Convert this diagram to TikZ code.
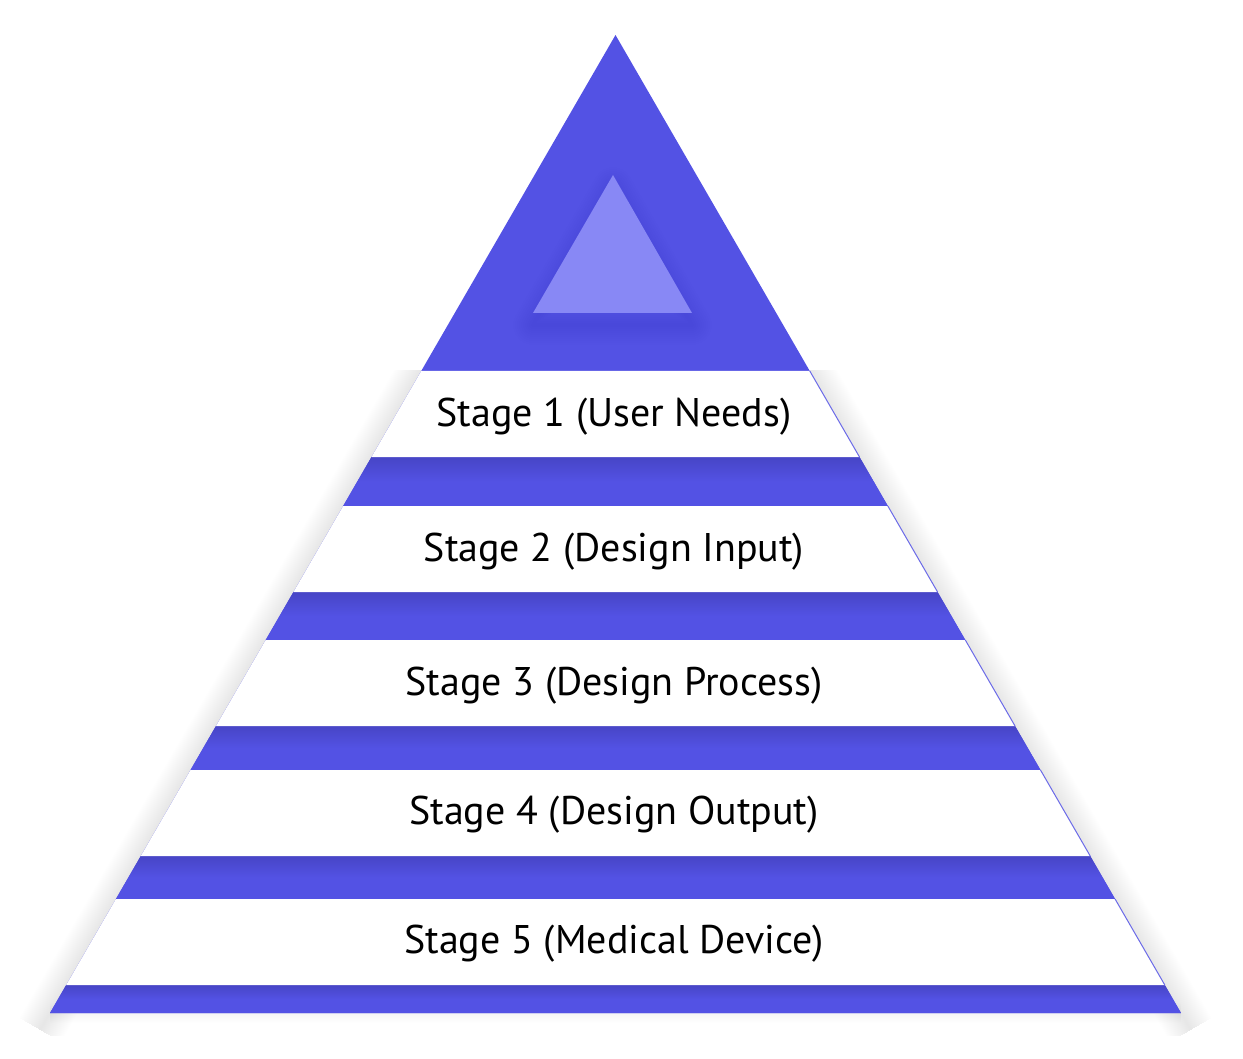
\documentclass[tikz,border=0pt]{standalone}
\usepackage{fontspec}
\setmainfont{PT Sans}
\usetikzlibrary{positioning}
\definecolor{pyrBlue}{HTML}{5352E4}
\definecolor{pyrDark}{HTML}{4745C6}
\definecolor{pyrLight}{HTML}{8888F5}
\tikzset{
  band/.style={fill=white},
  stripe/.style={top color=pyrDark, bottom color=pyrBlue, middle color=pyrBlue},
  stageLabel/.style={font=\fontsize{20}{24}\selectfont, text=black, inner sep=0pt},
  rimLine/.style={draw=pyrBlue!85, line width=0.5pt},
  haze/.style={black, opacity=0.0035, line cap=butt}
}

\begin{document}
\begin{tikzpicture}[x=0.5pt, y=-0.5pt,
    declare function={xl(\y)=615.5-0.5782*(\y-35); xr(\y)=615.5+0.5782*(\y-35);}]
  \useasboundingbox (0,0) rectangle (1243,1059);
  \coordinate (apex) at (615.5,35);
  \coordinate (baseL) at ({xl(1013)},1013);
  \coordinate (baseR) at ({xr(1013)},1013);
  \coordinate (flankL) at ({xl(371)},371);
  \coordinate (flankR) at ({xr(371)},371);

  % soft shadow along the flanks
  \begin{scope}
    \clip (0,371) rectangle (1243,1035);
    \foreach \w in {2,4,...,48} {
      \draw[haze, line width=\w*0.5pt] ({xl(300)},300) -- ({xl(1030)},1030);
      \draw[haze, line width=\w*0.5pt] ({xr(300)},300) -- ({xr(1030)},1030);
    }
    \foreach \w in {2,4,...,20}
      \draw[haze, line width=\w*0.5pt] (baseL) -- (baseR);
  \end{scope}

  % pyramid body
  \fill[pyrBlue] (apex) -- (baseL) -- (baseR) -- cycle;

  % blue stripes, darker under each white band
  \foreach \ya/\yb in {457/506, 592/640, 726/770, 856/899, 985/1013}
    \path[stripe] ({xl(\ya)},\ya) -- ({xr(\ya)},\ya) -- ({xr(\yb)},\yb) -- ({xl(\yb)},\yb) -- cycle;

  % white bands
  \foreach \ya/\yb in {371/457, 506/592, 640/726, 770/856, 899/985} {
    \fill[band] ({xl(\ya)},\ya) -- ({xr(\ya)},\ya) -- ({xr(\yb)},\yb) -- ({xl(\yb)},\yb) -- cycle;
    \draw[rimLine] ({xr(\ya)},\ya) -- ({xr(\yb)},\yb);
  }

  % small triangle at the top
  \coordinate (tipT) at (613,175);
  \coordinate (tipL) at (533,313);
  \coordinate (tipR) at (692,313);
  \begin{scope}
    \clip (apex) -- (flankL) -- (flankR) -- cycle;
    \foreach \w in {4,8,...,40}
      \draw[black, opacity=0.005, line width=\w*0.5pt, line join=round]
        ([yshift=-6pt]tipT) -- ([yshift=-6pt]tipL) -- ([yshift=-6pt]tipR) -- cycle;
  \end{scope}
  \fill[pyrLight] (tipT) -- (tipL) -- (tipR) -- cycle;

  % stage labels
  \foreach \yy/\txt [count=\i] in {417/Stage 1 (User Needs), 552/Stage 2 (Design Input),
      686/Stage 3 (Design Process), 815/Stage 4 (Design Output), 944/Stage 5 (Medical Device)}
    \node[stageLabel] (stage\i) at (614,\yy) {\txt};
\end{tikzpicture}
\end{document}
